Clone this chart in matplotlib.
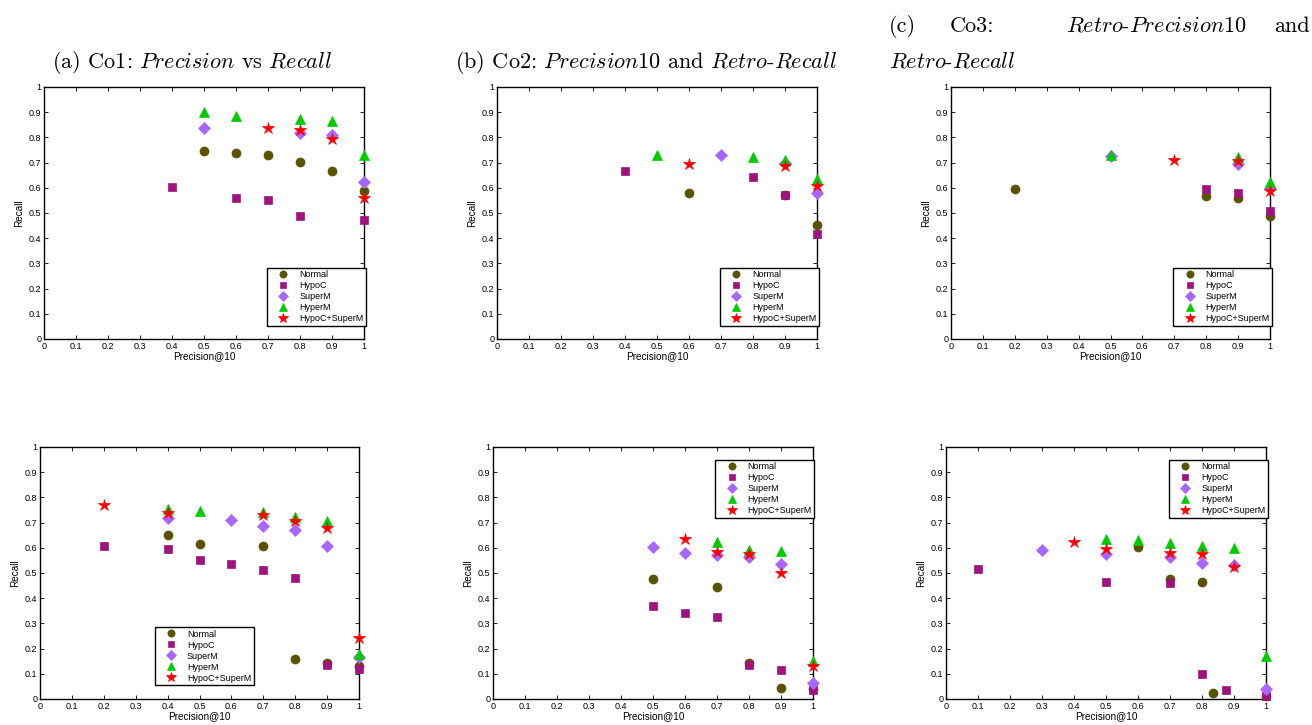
import matplotlib
matplotlib.use('Agg')
import matplotlib.pyplot as plt
from matplotlib.ticker import FixedLocator, FuncFormatter

plt.rcParams['font.family'] = ['Liberation Sans', 'DejaVu Sans']
plt.rcParams['mathtext.fontset'] = 'cm'

# === DADOS === #
series_names = ['Normal', 'HypoC', 'SuperM', 'HyperM', 'HypoC+SuperM']
colors = ['#5a5200', '#a0137e', '#a866ff', '#00cc00', '#ff0000']
markers = ['o', 's', 'D', '^', '*']

# painel (a)
a_normal_x = [0.5, 0.6, 0.7, 0.8, 0.9, 1.0]
a_normal_y = [0.748, 0.739, 0.731, 0.703, 0.668, 0.588]
a_hypoc_x = [0.4, 0.6, 0.7, 0.8, 1.0]
a_hypoc_y = [0.604, 0.561, 0.553, 0.489, 0.471]
a_superm_x = [0.5, 0.8, 0.9, 1.0]
a_superm_y = [0.838, 0.818, 0.811, 0.625]
a_hyperm_x = [0.5, 0.6, 0.8, 0.9, 1.0]
a_hyperm_y = [0.900, 0.885, 0.875, 0.867, 0.731]
a_both_x = [0.7, 0.8, 0.9, 1.0]
a_both_y = [0.838, 0.828, 0.794, 0.561]

# painel (b)
b_normal_x = [0.6, 0.9, 1.0]
b_normal_y = [0.579, 0.570, 0.454]
b_hypoc_x = [0.4, 0.8, 0.9, 1.0]
b_hypoc_y = [0.668, 0.641, 0.570, 0.418]
b_superm_x = [0.7, 0.9, 1.0]
b_superm_y = [0.731, 0.700, 0.578]
b_hyperm_x = [0.5, 0.8, 0.9, 1.0]
b_hyperm_y = [0.731, 0.722, 0.712, 0.633]
b_both_x = [0.6, 0.9, 1.0]
b_both_y = [0.695, 0.687, 0.607]

# painel (c)
c_normal_x = [0.2, 0.8, 0.9, 1.0]
c_normal_y = [0.596, 0.569, 0.559, 0.488]
c_hypoc_x = [0.8, 0.9, 1.0]
c_hypoc_y = [0.595, 0.579, 0.507]
c_superm_x = [0.5, 0.9, 1.0]
c_superm_y = [0.728, 0.694, 0.600]
c_hyperm_x = [0.5, 0.9, 1.0]
c_hyperm_y = [0.731, 0.722, 0.625]
c_both_x = [0.7, 0.9, 1.0]
c_both_y = [0.712, 0.706, 0.588]

# painel (d)
d_normal_x = [0.4, 0.5, 0.7, 0.8, 0.9, 1.0]
d_normal_y = [0.649, 0.617, 0.607, 0.157, 0.142, 0.132]
d_hypoc_x = [0.2, 0.4, 0.5, 0.6, 0.7, 0.8, 0.9, 1.0]
d_hypoc_y = [0.608, 0.594, 0.551, 0.536, 0.511, 0.480, 0.136, 0.121]
d_superm_x = [0.4, 0.6, 0.7, 0.8, 0.9, 1.0]
d_superm_y = [0.718, 0.710, 0.685, 0.669, 0.607, 0.166]
d_hyperm_x = [0.4, 0.5, 0.7, 0.8, 0.9, 1.0]
d_hyperm_y = [0.754, 0.745, 0.741, 0.722, 0.708, 0.180]
d_both_x = [0.2, 0.4, 0.7, 0.8, 0.9, 1.0]
d_both_y = [0.768, 0.739, 0.730, 0.706, 0.677, 0.244]

# painel (e)
e_normal_x = [0.5, 0.7, 0.8, 0.9, 1.0]
e_normal_y = [0.475, 0.445, 0.144, 0.044, 0.040]
e_hypoc_x = [0.5, 0.6, 0.7, 0.8, 0.9, 1.0]
e_hypoc_y = [0.368, 0.340, 0.326, 0.136, 0.115, 0.037]
e_superm_x = [0.5, 0.6, 0.7, 0.8, 0.9, 1.0]
e_superm_y = [0.602, 0.580, 0.570, 0.562, 0.537, 0.063]
e_hyperm_x = [0.7, 0.8, 0.9, 1.0]
e_hyperm_y = [0.622, 0.592, 0.588, 0.152]
e_both_x = [0.6, 0.7, 0.8, 0.9, 1.0]
e_both_y = [0.635, 0.584, 0.574, 0.500, 0.131]

# painel (f)
f_normal_x = [0.6, 0.7, 0.8, 0.833, 1.0]
f_normal_y = [0.602, 0.476, 0.464, 0.024, 0.013]
f_hypoc_x = [0.1, 0.5, 0.7, 0.8, 0.875, 1.0]
f_hypoc_y = [0.516, 0.464, 0.459, 0.100, 0.034, 0.013]
f_superm_x = [0.3, 0.5, 0.7, 0.8, 0.9, 1.0]
f_superm_y = [0.592, 0.574, 0.565, 0.541, 0.530, 0.040]
f_hyperm_x = [0.5, 0.6, 0.7, 0.8, 0.9, 1.0]
f_hyperm_y = [0.635, 0.629, 0.621, 0.609, 0.598, 0.172]
f_both_x = [0.4, 0.5, 0.7, 0.8, 0.9]
f_both_y = [0.624, 0.594, 0.578, 0.574, 0.522]

paineis = [
    [(a_normal_x, a_normal_y), (a_hypoc_x, a_hypoc_y), (a_superm_x, a_superm_y), (a_hyperm_x, a_hyperm_y), (a_both_x, a_both_y)],
    [(b_normal_x, b_normal_y), (b_hypoc_x, b_hypoc_y), (b_superm_x, b_superm_y), (b_hyperm_x, b_hyperm_y), (b_both_x, b_both_y)],
    [(c_normal_x, c_normal_y), (c_hypoc_x, c_hypoc_y), (c_superm_x, c_superm_y), (c_hyperm_x, c_hyperm_y), (c_both_x, c_both_y)],
    [(d_normal_x, d_normal_y), (d_hypoc_x, d_hypoc_y), (d_superm_x, d_superm_y), (d_hyperm_x, d_hyperm_y), (d_both_x, d_both_y)],
    [(e_normal_x, e_normal_y), (e_hypoc_x, e_hypoc_y), (e_superm_x, e_superm_y), (e_hyperm_x, e_hyperm_y), (e_both_x, e_both_y)],
    [(f_normal_x, f_normal_y), (f_hypoc_x, f_hypoc_y), (f_superm_x, f_superm_y), (f_hyperm_x, f_hyperm_y), (f_both_x, f_both_y)],
]

ticks = [0, 0.1, 0.2, 0.3, 0.4, 0.5, 0.6, 0.7, 0.8, 0.9, 1]

# posição dos eixos em pixels: (esquerda, topo, largura, altura)
W, H = 1312, 725
caixas = [(44, 87, 320, 252), (497, 87, 320, 252), (951, 87, 319, 252),
          (40, 447, 319, 252), (493, 447, 320, 252), (946, 447, 320, 252)]
legendas = [(0.697, 0.283), (0.697, 0.283), (0.697, 0.283),
            (0.360, 0.286), (0.695, 0.950), (0.697, 0.950)]
tamanhos = {'o': 6.5, 's': 5.6, 'D': 5.8, '^': 6.8, '*': 9}

fig = plt.figure(figsize=(W / 100, H / 100), dpi=100)

fmt = FuncFormatter(lambda v, p: '%g' % v)
for k in range(6):
    l, t, w, h = caixas[k]
    ax = fig.add_axes([l / W, (H - t - h) / H, w / W, h / H])
    for s in range(5):
        xs, ys = paineis[k][s]
        ax.plot(xs, ys, linestyle='none', marker=markers[s], color=colors[s],
                markersize=tamanhos[markers[s]], markeredgewidth=0.5,
                label=series_names[s], clip_on=False, zorder=3 + s)
    ax.set_xlim(0, 1)
    ax.set_ylim(0, 1)
    ax.xaxis.set_major_locator(FixedLocator(ticks))
    ax.yaxis.set_major_locator(FixedLocator(ticks))
    ax.xaxis.set_major_formatter(fmt)
    ax.yaxis.set_major_formatter(fmt)
    ax.tick_params(direction='in', top=True, right=True, length=3, width=0.6,
                   labelsize=6.5, pad=2)
    for sp in ax.spines.values():
        sp.set_linewidth(1.0)
    ax.set_xlabel('Precision@10', fontsize=7.2, labelpad=0)
    ax.set_ylabel('Recall', fontsize=7.2, labelpad=3)
    leg = ax.legend(loc='upper left', bbox_to_anchor=legendas[k], fontsize=6.5,
                    frameon=True, fancybox=False, edgecolor='black',
                    framealpha=1, labelspacing=0.22, handlelength=3.0,
                    handletextpad=0.25, borderpad=0.3, borderaxespad=0,
                    markerscale=0.8)
    leg.get_frame().set_linewidth(1.0)
    leg.set_zorder(20)

# títulos (estilo LaTeX)
tf = dict(fontsize=16, family='cmr10', va='center')
fig.text(192 / W, 1 - 62 / H, r'(a) Co1: $\mathit{Precision}$ vs $\mathit{Recall}$', ha='center', **tf)
fig.text(646 / W, 1 - 62 / H, r'(b) Co2: $\mathit{Precision10}$ and $\mathit{Retro}$-$\mathit{Recall}$', ha='center', **tf)
fig.text(889 / W, 1 - 26 / H, '(c)', ha='left', **tf)
fig.text(950 / W, 1 - 26 / H, 'Co3:', ha='left', **tf)
fig.text(1066 / W, 1 - 26 / H, r'$\mathit{Retro}$-$\mathit{Precision10}$', ha='left', **tf)
fig.text(1310 / W, 1 - 26 / H, 'and', ha='right', **tf)
fig.text(889 / W, 1 - 62 / H, r'$\mathit{Retro}$-$\mathit{Recall}$', ha='left', **tf)

fig.savefig('out.png', dpi=100)
